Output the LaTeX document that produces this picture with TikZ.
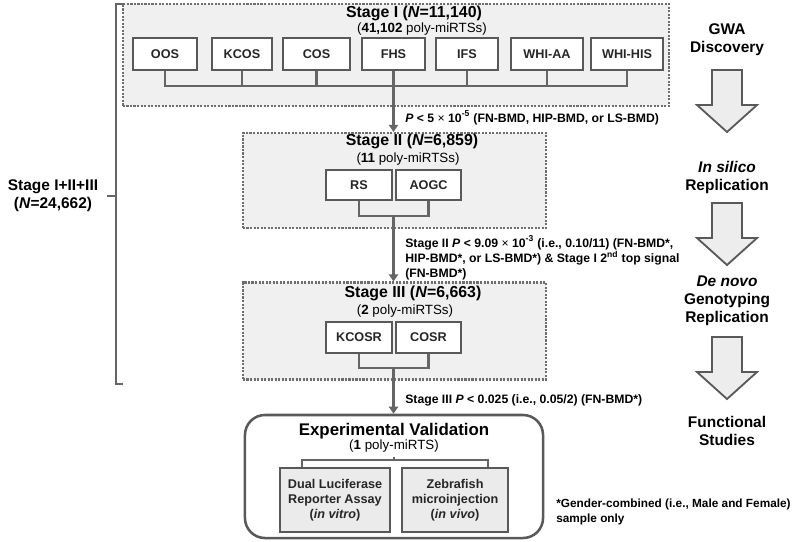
\documentclass[tikz,border=0pt]{standalone}
\usepackage{fontspec}
\setmainfont{Liberation Sans}
\usetikzlibrary{arrows.meta}
\definecolor{boxline}{HTML}{595959}
\definecolor{linkgray}{HTML}{656565}
\definecolor{dashgray}{HTML}{6E6E6E}
\definecolor{stagefill}{HTML}{F0F0F0}
\definecolor{arrowfill}{HTML}{EDEDED}
\tikzset{
    stagebox/.style={
        draw=dashgray,
        line width=1.5pt,
        dash pattern=on 1.5pt off 1pt,
        fill=stagefill},
    cohort/.style={
        draw=boxline,
        line width=2.1pt,
        fill=white,
        text=black!85,
        font=\bfseries\fontsize{9}{10.5}\selectfont,
        minimum height=0.8cm,
        inner sep=1pt},
    assay/.style={
        cohort,
        fill=black!8,
        align=center,
        font=\bfseries\fontsize{9}{10.7}\selectfont,
        minimum height=1.6cm},
    link/.style={
        draw=linkgray,
        line width=2pt},
    flow/.style={
        link,
        -{Triangle[length=5pt,width=6.5pt]}},
    stagetitle/.style={font=\bfseries\fontsize{11.3}{13}\selectfont},
    stagesub/.style={font=\fontsize{9.5}{11}\selectfont},
    cond/.style={
        anchor=west,
        align=left,
        inner sep=0pt,
        font=\bfseries\fontsize{8.7}{10.7}\selectfont},
    phase/.style={
        align=center,
        font=\bfseries\fontsize{11}{12.8}\selectfont},
    bigarrow/.style={
        draw=boxline,
        line width=1.3pt,
        fill=arrowfill}}

\begin{document}
\begin{tikzpicture}[x=0.025cm,y=-0.025cm]
    \useasboundingbox (0,0) rectangle (800,541);

    \node[stagebox,minimum width=13.65cm,minimum height=2.55cm] (s1) at (396,55) {};
    \node[stagebox,minimum width=7.575cm,minimum height=2.375cm] (s2) at (394.5,180.5) {};
    \node[stagebox,minimum width=7.575cm,minimum height=2.425cm] (s3) at (394.5,331) {};

    \node[stagetitle] (s1title) at (414,13) {Stage I (\textit{N}=11,140)};
    \node[stagesub] (s1sub) at (422,29) {(\textbf{41,102} poly-miRTSs)};
    \node[stagetitle] (s2title) at (412,141) {Stage II (\textit{N}=6,859)};
    \node[stagesub] (s2sub) at (408,159) {(\textbf{11} poly-miRTSs)};
    \node[stagetitle] (s3title) at (413,293) {Stage III (\textit{N}=6,663)};
    \node[stagesub] (s3sub) at (405,311) {(\textbf{2} poly-miRTSs)};

    \node[cohort,minimum width=1.6cm] (oos) at (165,54) {OOS};
    \node[cohort,minimum width=1.5cm] (kcos) at (242,54) {KCOS};
    \node[cohort,minimum width=1.675cm] (cos) at (316.5,54) {COS};
    \node[cohort,minimum width=1.575cm] (fhs) at (393.5,54) {FHS};
    \node[cohort,minimum width=1.55cm] (ifs) at (467,54) {IFS};
    \node[cohort,minimum width=1.8cm] (whiaa) at (547,54) {WHI-AA};
    \node[cohort,minimum width=1.8cm] (whihis) at (627,54) {WHI-HIS};

    \node[cohort,minimum width=1.65cm,minimum height=0.75cm] (rs) at (359,185) {RS};
    \node[cohort,minimum width=1.625cm,minimum height=0.75cm] (aogc) at (428.5,185) {AOGC};
    \node[cohort,minimum width=1.65cm,minimum height=0.775cm] (kcosr) at (359,337.5) {KCOSR};
    \node[cohort,minimum width=1.625cm,minimum height=0.775cm] (cosr) at (428.5,337.5) {COSR};

    \node[draw=boxline,line width=1.8pt,rounded corners=0.5cm,fill=white,
        minimum width=7.45cm,minimum height=3.075cm] (val) at (394,476.5) {};
    \node[font=\bfseries\fontsize{12}{14}\selectfont] (valtitle) at (394,431) {Experimental Validation};
    \node[stagesub] (valsub) at (394,446) {(\textbf{1} poly-miRTS)};
    \node[assay,minimum width=2.75cm] (dual) at (335,500) {Dual Luciferase\\Reporter Assay\\(\textit{in vitro})};
    \node[assay,minimum width=2.65cm] (zebra) at (455,500) {Zebrafish\\microinjection\\(\textit{in vivo})};

    \coordinate (s1join) at (393.5,86);
    \coordinate (s2join) at (393.5,216);
    \coordinate (s3join) at (393.5,368);
    \coordinate (valjoin) at (394,460);
    \coordinate (vall) at (302,460);
    \coordinate (valr) at (488,460);

    \draw[link] (oos.south) |- (s1join) -| (whihis.south);
    \foreach \c in {kcos,cos,fhs,ifs,whiaa}
        \draw[link] (\c.south) -- (\c |- s1join);
    \draw[link] (rs.south) |- (s2join) -| (aogc.south);
    \draw[link] (kcosr.south) |- (s3join) -| (cosr.south);
    \draw[link] (dual.north -| vall) -- (vall) -- (valr) -- (zebra.north -| valr);
    \draw[link] (valsub.south -| valjoin) -- (valjoin);

    \draw[flow] (s1join) -- (s1join |- s2.north);
    \draw[flow] (s2join) -- (s2join |- s3.north);
    \draw[flow] (s3join) -- (s3join |- val.north);

    \node[cond] (c1) at (405,118) {\textit{P} < 5 {\mdseries×} 10\textsuperscript{-5} (FN-BMD, HIP-BMD, or LS-BMD)};
    \node[cond] (c2) at (405,258) {Stage II \textit{P} < 9.09 {\mdseries×} 10\textsuperscript{-3} (i.e., 0.10/11) (FN-BMD*,\\
        HIP-BMD*, or LS-BMD*) \& Stage I 2\textsuperscript{nd} top signal\\(FN-BMD*)};
    \node[cond] (c3) at (405,400) {Stage III \textit{P} < 0.025 (i.e., 0.05/2) (FN-BMD*)};

    \node[phase] (total) at (53,196) {Stage I+II+III\\(\textit{N}=24,662)};
    \coordinate (brtop) at (123,4);
    \coordinate (brbot) at (123,384);
    \coordinate (brmid) at (116,196);
    \draw[link] (brtop) -| (brmid) |- (brbot);
    \draw[link] (brmid) -- ++(-9,0);

    \node[phase] (gwa) at (727,40) {GWA\\Discovery};
    \node[phase] (silico) at (727,177) {\textit{In silico}\\Replication};
    \node[phase] (novo) at (727,301) {\textit{De novo}\\Genotyping\\Replication};
    \node[phase] (func) at (727,431) {Functional\\Studies};
    \foreach \t in {70,203,337}
        \draw[bigarrow] (712,\t) -- (742,\t) -- (742,\t+35) -- (757,\t+35)
            -- (727,\t+62) -- (697,\t+35) -- (712,\t+35) -- cycle;

    \node[cond,font=\bfseries\fontsize{8.4}{10.3}\selectfont] (note) at (556,512)
        {*Gender-combined (i.e., Male and Female)\\sample only};
\end{tikzpicture}
\end{document}
